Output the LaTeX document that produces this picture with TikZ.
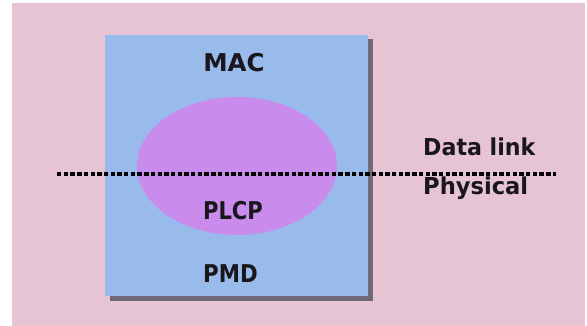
\documentclass[tikz,border=0pt]{standalone}
\usepackage{fontspec}
\setsansfont{DejaVu Sans}
\definecolor{bgpink}{RGB}{230,196,212}
\definecolor{boxblue}{RGB}{152,187,236}
\definecolor{ellviolet}{RGB}{201,139,236}
\definecolor{shadowgrey}{RGB}{112,106,120}
\definecolor{txt}{RGB}{25,22,28}
\tikzset{
  lbl/.style={inner sep=0pt, text=txt, font=\sffamily\bfseries\fontsize{24.5}{26}\selectfont, anchor=base},
  sidelbl/.style={inner sep=0pt, text=txt, font=\sffamily\bfseries\fontsize{23.3}{25}\selectfont, anchor=base west},
  divider/.style={line width=3.8pt, dash pattern=on 4.4pt off 2.3pt, black}
}
\begin{document}
\begin{tikzpicture}[x=1pt,y=-1pt]
  \fill[white] (0,0) rectangle (587,326);
  \useasboundingbox (0,0) rectangle (587,326);
  \fill[bgpink] (12,3) rectangle (585,326);
  % shadow and box
  \fill[shadowgrey] (110,39) rectangle (373,301);
  \fill[boxblue] (105,35) rectangle (368,296);
  \node[coordinate] (box) at (236.5,165.5) {};
  % ellipse
  \fill[ellviolet] (237,166) ellipse [x radius=100, y radius=69];
  \node[coordinate] (ell) at (237,166) {};
  % divider
  \coordinate (dl) at (57,174);
  \coordinate (dr) at (556,174);
  \draw[divider] (dl) -- (dr);
  % labels
  \node[lbl] (mac) at (234,72) {MAC};
  \node[lbl] (plcp) at (233,220) {\scalebox{0.86}[1]{PLCP}};
  \node[lbl] (pmd) at (230.5,283) {\scalebox{0.87}[1]{PMD}};
  \node[sidelbl] (datalink) at (423,156) {\scalebox{0.95}[1]{Data link}};
  \node[sidelbl] (physical) at (423,195) {\scalebox{0.97}[1]{Physical}};
\end{tikzpicture}
\end{document}
